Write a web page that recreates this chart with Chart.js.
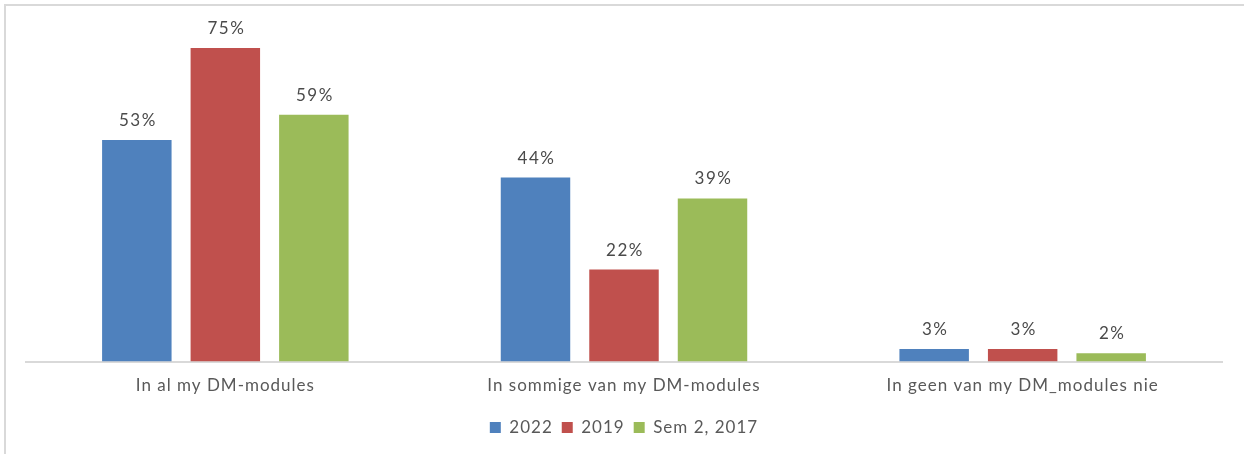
<!DOCTYPE html>
<html>
<head>
<meta charset="utf-8">
<script src="https://cdn.jsdelivr.net/npm/chart.js@4/dist/chart.umd.min.js"></script>
<style>
  html, body { margin: 0; padding: 0; background: #ffffff; overflow: hidden; }
  #frame {
    position: absolute; left: 4px; top: 4px; width: 1300px; height: 500px;
    border-left: 2px solid #d9d9d9; border-top: 2px solid #d9d9d9;
  }
  #wrap { position: absolute; left: 0; top: 0; width: 1244px; height: 454px; }
</style>
</head>
<body>
<div id="frame"></div>
<div id="wrap"><canvas id="chart" width="1244" height="454"></canvas></div>
<script>
const categories = [
  'In al my DM-modules',
  'In sommige van my DM-modules',
  'In geen van my DM_modules nie'
];
const series2022 = [53, 44, 3];
const series2019 = [75, 22, 3];
const series2017 = [59, 39, 2];
const seriesNames = ['2022', '2019', 'Sem 2, 2017'];
const seriesColors = ['#4F81BD', '#C0504D', '#9BBB59'];

const FONT = 'Lato, "Open Sans", sans-serif';

// Slightly wider tracking for all canvas text
const tracking = {
  id: 'tracking',
  beforeUpdate(chart) { chart.ctx.letterSpacing = '1px'; },
  beforeDraw(chart) { chart.ctx.letterSpacing = '1px'; }
};

// Writes each bar's value, with a percent sign, just above the bar
const valueLabels = {
  id: 'valueLabels',
  afterDatasetsDraw(chart) {
    const ctx = chart.ctx;
    ctx.save();
    ctx.letterSpacing = '1.5px';
    ctx.font = '17px ' + FONT;
    ctx.fillStyle = '#4a4a4a';
    ctx.textAlign = 'center';
    ctx.textBaseline = 'bottom';
    chart.data.datasets.forEach((ds, i) => {
      chart.getDatasetMeta(i).data.forEach((bar, j) => {
        ctx.fillText(ds.data[j] + '%', bar.x + 1, bar.y - 11);
      });
    });
    ctx.restore();
  }
};

new Chart(document.getElementById('chart'), {
  type: 'bar',
  data: {
    labels: categories,
    datasets: [
      { label: seriesNames[0], data: series2022, backgroundColor: seriesColors[0] },
      { label: seriesNames[1], data: series2019, backgroundColor: seriesColors[1] },
      { label: seriesNames[2], data: series2017, backgroundColor: seriesColors[2] }
    ]
  },
  options: {
    responsive: false,
    animation: false,
    events: [],
    layout: { padding: { left: 26, right: 22, top: 27, bottom: 8 } },
    datasets: {
      bar: { categoryPercentage: 0.666, barPercentage: 0.785 }
    },
    scales: {
      x: {
        grid: { display: false },
        border: { display: true, color: '#d9d9d9', width: 2 },
        ticks: { color: '#595959', font: { family: FONT, size: 17 }, padding: 6 },
        afterFit(scale) { scale.height += 8; }
      },
      y: {
        display: false,
        min: 0,
        max: 80
      }
    },
    plugins: {
      legend: {
        position: 'bottom',
        labels: {
          color: '#595959',
          font: { family: FONT, size: 17 },
          boxWidth: 11,
          boxHeight: 11,
          padding: 9
        }
      },
      tooltip: { enabled: false }
    }
  },
  plugins: [tracking, valueLabels]
});
</script>
</body>
</html>
